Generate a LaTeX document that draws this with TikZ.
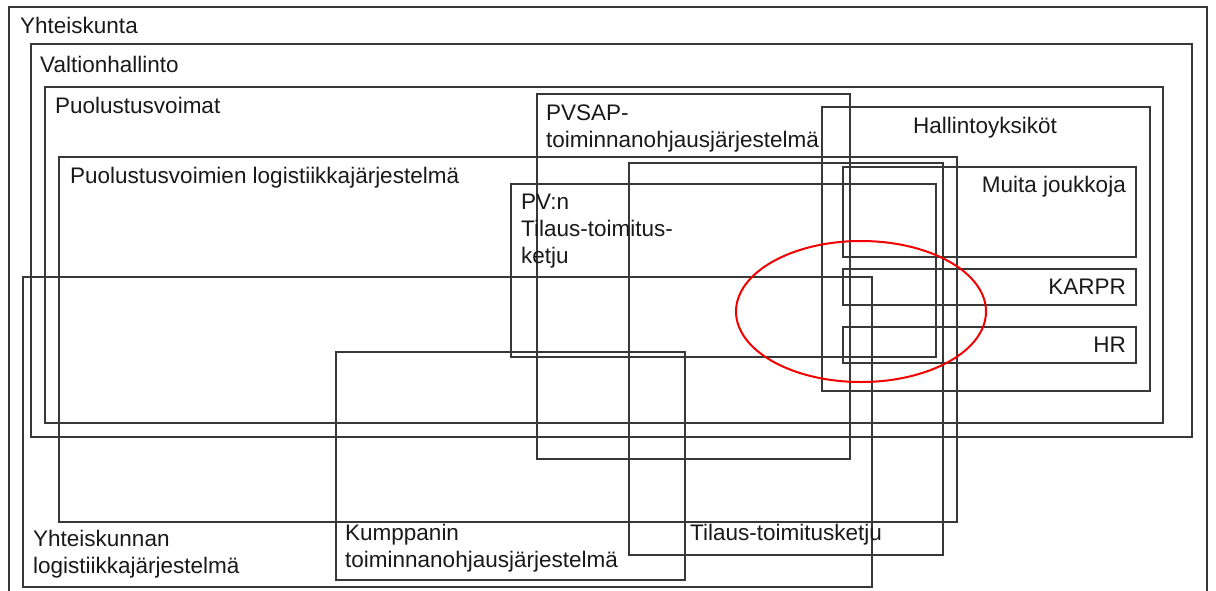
\documentclass[tikz,border=0pt]{standalone}
\usepackage{fontspec}
\setmainfont{Liberation Sans}
\begin{document}
\begin{tikzpicture}[x=1pt,y=-1pt,
  frame/.style={draw=black!78,line width=1.2pt},
  lbl/.style={inner sep=0pt,font=\fontsize{22.5}{27}\selectfont,text=black!90},
  lblw/.style={lbl,anchor=base west,align=left},
  lble/.style={lbl,anchor=base east,align=right},
  focus/.style={draw=red!95!black,line width=2pt}]
\useasboundingbox (0,0) rectangle (1216,590);
\clip (0,0) rectangle (1216,590);

% nested organisational frames
\draw[frame] (9,7)     rectangle (1207,600);  % Yhteiskunta
\draw[frame] (31,44)   rectangle (1192,437);  % Valtionhallinto
\draw[frame] (45,87)   rectangle (1163,423);  % Puolustusvoimat
\draw[frame] (59,157)  rectangle (957,522);   % PV logistiikkajärjestelmä
\draw[frame] (537,94)  rectangle (850,459);   % PVSAP
\draw[frame] (629,163) rectangle (943,555);   % Tilaus-toimitusketju
\draw[frame] (511,184) rectangle (936,357);   % PV:n tilaus-toimitusketju
\draw[frame] (822,107) rectangle (1150,391);  % Hallintoyksiköt
\draw[frame] (843,167) rectangle (1136,257);  % Muita joukkoja
\draw[frame] (843,269) rectangle (1136,305);  % KARPR
\draw[frame] (843,327) rectangle (1136,363);  % HR
\draw[frame] (23,277)  rectangle (872,587);   % Yhteiskunnan logistiikkajärjestelmä
\draw[frame] (336,352) rectangle (685,580);   % Kumppanin toiminnanohjausjärjestelmä

% labels (multi-line labels are placed by the baseline of their last line)
\node[lblw] (tYk)  at (20,33)   {Yhteiskunta};
\node[lblw] (tVh)  at (40,72)   {Valtionhallinto};
\node[lblw] (tPv)  at (55,113)  {Puolustusvoimat};
\node[lblw] (tPvl) at (70,183)  {Puolustusvoimien logistiikkajärjestelmä};
\node[lblw] (tSap) at (546,147) {PVSAP-\\toiminnanohjausjärjestelmä};
\node[lblw] (tPvn) at (521,263) {PV:n\\Tilaus-toimitus-\\ketju};
\node[lblw] (tHy)  at (913,133) {Hallintoyksiköt};
\node[lble] (tMj)  at (1126,192) {Muita joukkoja};
\node[lble] (tKa)  at (1126,294) {KARPR};
\node[lble] (tHr)  at (1126,352) {HR};
\node[lblw] (tYl)  at (33,573)  {Yhteiskunnan\\logistiikkajärjestelmä};
\node[lblw] (tKu)  at (345,567) {Kumppanin\\toiminnanohjausjärjestelmä};
\node[lblw] (tTt)  at (690,540) {Tilaus-toimitusketju};

% highlighted overlap
\draw[focus] (861,311.5) ellipse [x radius=125, y radius=70.5];
\end{tikzpicture}
\end{document}
